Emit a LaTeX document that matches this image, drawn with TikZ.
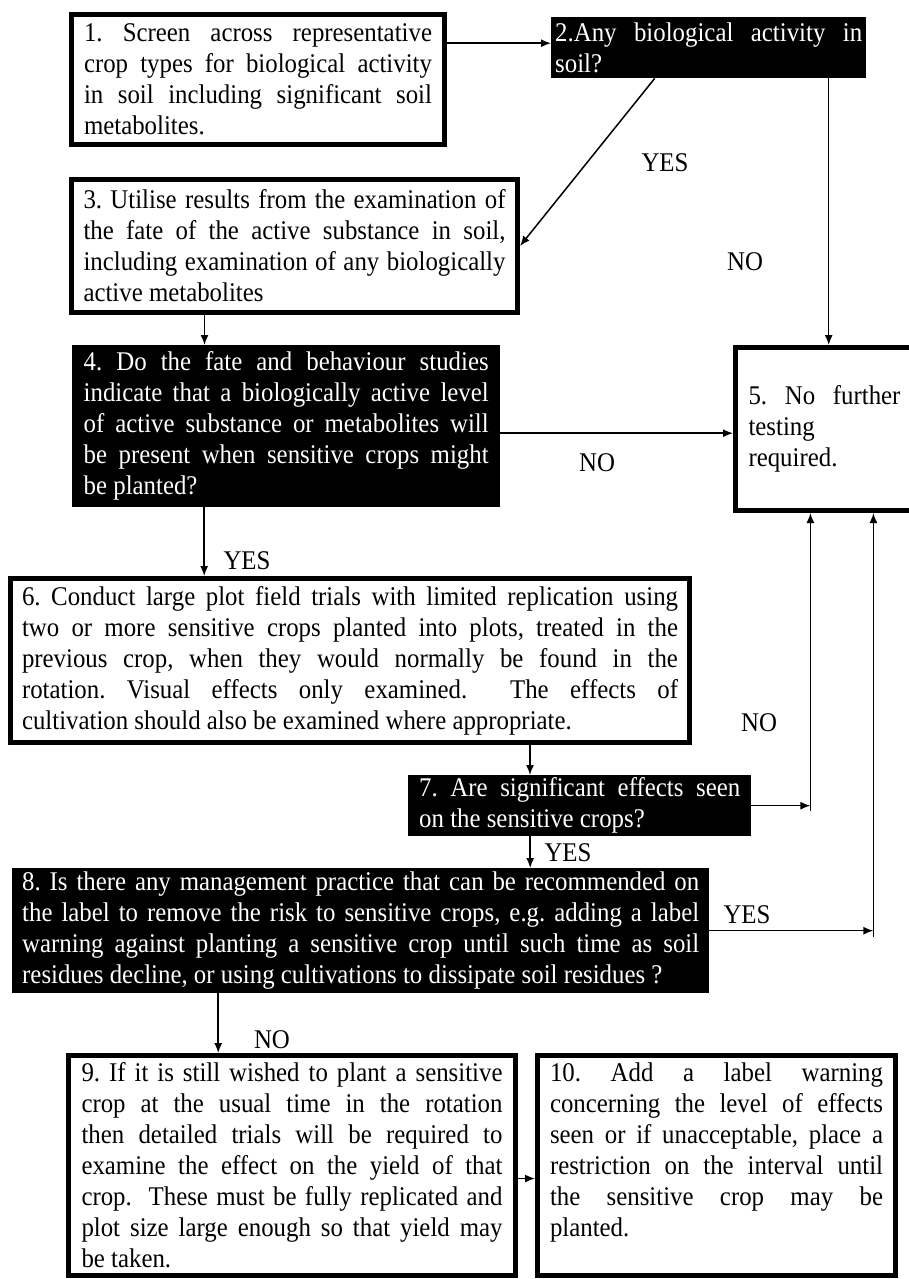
\documentclass[tikz,border=0pt]{standalone}
\usepackage{fontspec}
\setmainfont{Liberation Serif}[FakeStretch=0.92]
\usepackage{tikz}
\usetikzlibrary{arrows.meta,positioning,calc}
\setlength{\parindent}{0pt}
\frenchspacing
\tolerance=9999
\hyphenpenalty=10000

\begin{document}
\begin{tikzpicture}[x=1pt, y=-1pt, every node/.style={font=\fontsize{27}{31}\selectfont},
    whitebox/.style={draw, line width=5pt, anchor=north west, align=justify, inner ysep=0pt},
    blackbox/.style={fill=black, text=white, anchor=north west, align=justify, inner ysep=0pt},
    arr/.style={-{Latex[length=10pt,width=8pt]}, line width=1.5pt}]
    \useasboundingbox (0,0) rectangle (909,1279);

    % Kutular
    \node[whitebox, text width=348pt, inner xsep=12.5pt, minimum height=130pt] (b1) at (69,12)
        {1. Screen across representative\linebreak crop types for biological activity\linebreak
         in soil including significant soil\linebreak metabolites.};
    \node[blackbox, text width=307pt, inner xsep=4pt, minimum height=61pt] (b2) at (551,17)
        {2.Any biological activity in\linebreak soil?};
    \node[whitebox, text width=422pt, inner xsep=12pt, minimum height=133pt] (b3) at (69,177)
        {3. Utilise results from the examination of\linebreak the fate of the active substance in soil,\linebreak
         including examination of any biologically\linebreak active metabolites};
    \node[blackbox, text width=405pt, inner xsep=11.5pt, minimum height=162pt] (b4) at (72,345)
        {4. Do the fate and behaviour studies\linebreak indicate that a biologically active level\linebreak
         of active substance or metabolites will\linebreak be present when sensitive crops might\linebreak be planted?};
    \node[whitebox, text width=152pt, inner xsep=13pt, minimum height=163pt] (b5) at (733,345)
        {5. No further\linebreak testing\\ required.};
    \node[whitebox, text width=656pt, inner xsep=11.5pt, minimum height=164pt] (b6) at (8,576)
        {6. Conduct large plot field trials with limited replication using\linebreak
         two or more sensitive crops planted into plots, treated in the\linebreak
         previous crop, when they would normally be found in the\linebreak
         rotation. Visual effects only examined.\ \ The effects of\linebreak
         cultivation should also be examined where appropriate.};
    \node[blackbox, text width=321pt, inner xsep=11pt, minimum height=61pt] (b7) at (408,775)
        {7. Are significant effects seen\linebreak on the sensitive crops?};
    \node[blackbox, text width=677pt, inner xsep=10pt, minimum height=125pt] (b8) at (12,868)
        {\parfillskip=0pt\relax
         8. Is there any management practice that can be recommended on\linebreak
         the label to remove the risk to sensitive crops, e.g. adding a label\linebreak
         warning against planting a sensitive crop until such time as soil\linebreak
         residues decline, or using cultivations to dissipate soil residues ?};
    \node[whitebox, text width=421pt, inner xsep=13pt, minimum height=220pt] (b9) at (66,1053)
        {9. If it is still wished to plant a sensitive\linebreak crop at the usual time in the rotation\linebreak
         then detailed trials will be required to\linebreak examine the effect on the yield of that\linebreak
         crop.\ \ These must be fully replicated and\linebreak plot size large enough so that yield may\linebreak be taken.};
    \node[whitebox, text width=333pt, inner xsep=12.5pt, minimum height=220pt] (b10) at (535,1053)
        {10. Add a label warning\linebreak concerning the level of effects\linebreak
         seen or if unacceptable, place a\linebreak restriction on the interval until\linebreak
         the sensitive crop may be\linebreak planted.\\ \mbox{}};

    % Etiketler
    \node (yes2) at (665,163) {YES};
    \node (no2) at (745,262) {NO};
    \node (no4) at (597,463) {NO};
    \node (yes4) at (247,561) {YES};
    \node (no7) at (759,723) {NO};
    \node (yes7) at (568,853) {YES};
    \node (yes8) at (747,915) {YES};
    \node (no8) at (272,1040) {NO};

    % Oklar
    \coordinate (a12) at ([yshift=4.5pt]b2.west);
    \draw[arr] (b1.east |- a12) -- (a12);
    \draw[arr] ([xshift=-54pt]b2.south) -- (b3.east);
    \coordinate (a25) at ([xshift=120pt]b2.south);
    \draw[arr] (a25) -- (a25 |- b5.north);
    \coordinate (a34) at ([xshift=-90pt]b3.south);
    \draw[arr] (a34) -- (a34 |- b4.north);
    \coordinate (a45) at ([yshift=-7pt]b4.east);
    \draw[arr] (a45) -- (a45 -| b5.west);
    \coordinate (a46) at ([xshift=-82pt]b4.south);
    \draw[arr] (a46) -- (a46 |- b6.north);
    \coordinate (a67) at ([xshift=180pt]b6.south);
    \draw[arr] (a67) -- (a67 |- b7.north);
    % 7 -> 5
    \coordinate (j7) at ([xshift=59pt,yshift=-5.5pt]b7.east);
    \draw[arr] (j7) -- (j7 |- b5.south);
    \draw[arr] (b7.east) -- (b7.east -| j7);
    \coordinate (a78) at ([xshift=-49.5pt]b7.south);
    \draw[arr] (a78) -- (a78 |- b8.north);
    % 8 -> 5
    \coordinate (j8) at ([xshift=164pt,yshift=-6.5pt]b8.east);
    \draw[arr] (j8) -- (j8 |- b5.south);
    \draw[arr] (b8.east) -- (b8.east -| j8);
    \coordinate (a89) at ([xshift=-142.5pt]b8.south);
    \draw[arr] (a89) -- (a89 |- b9.north);
    \coordinate (a910) at ([yshift=-13pt]b9.east);
    \draw[arr] (a910) -- (a910 -| b10.west);
\end{tikzpicture}
\end{document}
